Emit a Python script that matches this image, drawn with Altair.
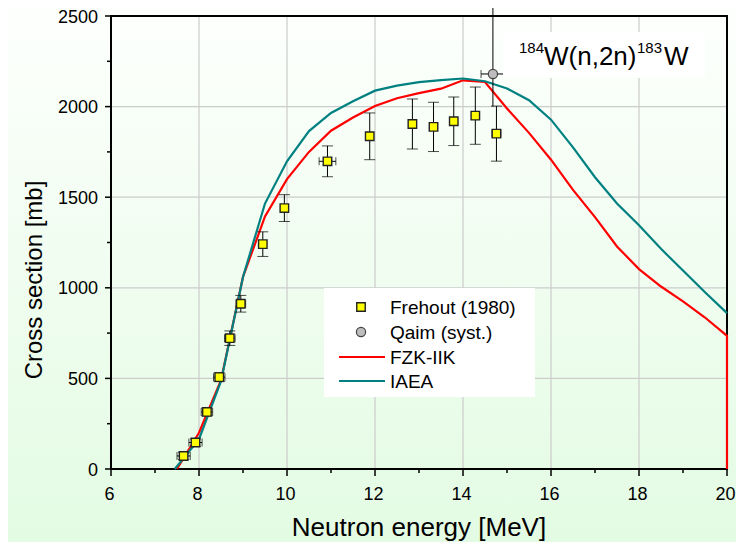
import altair as alt
import pandas as pd

FONT = "Liberation Sans"

# ---------------- data ----------------
# Frehout (1980) experimental points
fre_E = [7.65, 7.92, 8.18, 8.46, 8.70, 8.95, 9.45, 9.94, 10.92, 11.88, 12.85, 13.33, 13.79, 14.28, 14.76]
fre_S = [72, 146, 315, 507, 722, 912, 1241, 1440, 1698, 1836, 1904, 1888, 1919, 1950, 1851]
fre_dS = [20, 20, 22, 25, 40, 46, 68, 74, 85, 129, 138, 136, 134, 158, 152]
fre_dE = [0.15, 0.15, 0.13, 0.13, 0.12, 0.11, 0.08, 0.06, 0.19, 0.05, 0.05, 0.05, 0.05, 0.05, 0.10]

# Qaim (syst.)
qaim_E = [14.68]
qaim_S = [2180]
qaim_dE = [0.27]
qaim_lo = [2000]
qaim_hi = [2590]

# FZK-IIK evaluation
fzk_E = [7.5, 8.0, 8.5, 9.0, 9.5, 10.0, 10.5, 11.0, 11.5, 12.0, 12.5, 13.0, 13.5, 14.0,
         14.5, 15.0, 15.5, 16.0, 16.5, 17.0, 17.5, 18.0, 18.5, 19.0, 19.5, 20.0, 20.0]
fzk_S = [0, 200, 490, 1060, 1394, 1600, 1750, 1867, 1940, 2003, 2046, 2074, 2099, 2145,
         2136, 1990, 1855, 1707, 1540, 1390, 1228, 1103, 1007, 925, 836, 735, 0]

# IAEA evaluation
iaea_E = [7.45, 8.0, 8.5, 9.0, 9.5, 10.0, 10.5, 11.0, 11.5, 12.0, 12.5, 13.0, 13.5, 14.0,
          14.5, 15.0, 15.5, 16.0, 16.5, 17.0, 17.5, 18.0, 18.5, 19.0, 19.5, 20.0]
iaea_S = [0, 165, 485, 1060, 1465, 1698, 1865, 1965, 2030, 2088, 2116, 2135, 2146, 2155,
          2140, 2100, 2035, 1928, 1775, 1610, 1465, 1345, 1215, 1095, 975, 860]

x_ticks = [6, 8, 10, 12, 14, 16, 18, 20]
y_ticks = [0, 500, 1000, 1500, 2000, 2500]
x_minor = [7, 9, 11, 13, 15, 17, 19]
y_minor = [250, 750, 1250, 1750, 2250]
x_grid = [8, 10, 12, 14, 16, 18]
y_grid = [500, 1000, 1500, 2000]

x_title = "Neutron energy [MeV]"
y_title = "Cross section [mb]"
legend_labels = ["Frehout (1980)", "Qaim (syst.)", "FZK-IIK", "IAEA"]

# ---------------- frames ----------------
fre = pd.DataFrame({"E": fre_E, "S": fre_S, "dS": fre_dS, "dE": fre_dE})
fre["lo"] = fre["S"] - fre["dS"]
fre["hi"] = fre["S"] + fre["dS"]
fre["Elo"] = fre["E"] - fre["dE"]
fre["Ehi"] = fre["E"] + fre["dE"]
qa = pd.DataFrame({"E": qaim_E, "S": qaim_S, "lo": qaim_lo, "hi": qaim_hi})
qa["Elo"] = qa["E"] - pd.Series(qaim_dE)
qa["Ehi"] = qa["E"] + pd.Series(qaim_dE)
fzk = pd.DataFrame({"E": fzk_E, "S": fzk_S, "i": range(len(fzk_E))})
iaea = pd.DataFrame({"E": iaea_E, "S": iaea_S, "i": range(len(iaea_E))})
xt = pd.DataFrame({"t": x_ticks, "lab": [str(v) for v in x_ticks]})
yt = pd.DataFrame({"t": y_ticks, "lab": [str(v) for v in y_ticks]})
one = pd.DataFrame({"a": [0]})

W, H = 616, 453
PL, PT, PR, PB = 103, 8, 9, 73

xs = alt.Scale(domain=[6, 20], nice=False, zero=False)
ys = alt.Scale(domain=[0, 2500], nice=False, zero=False)


def X(f):
    return alt.X(f, type="quantitative", scale=xs, axis=None)


def Y(f):
    return alt.Y(f, type="quantitative", scale=ys, axis=None)


layers = []

# background gradient over the whole canvas
layers.append(alt.Chart(one).mark_rect(
    fill=alt.Gradient(gradient="linear",
                      stops=[alt.GradientStop(offset=0, color="#FDFFFD"),
                             alt.GradientStop(offset=1, color="#E3FBE3")],
                      x1=0, x2=0, y1=0, y2=1)
).encode(x=alt.value(-PL), x2=alt.value(W + PR), y=alt.value(-PT), y2=alt.value(H + PB)))

# grid lines
layers.append(alt.Chart(pd.DataFrame({"g": x_grid})).mark_rule(color="#CCCCCC", strokeWidth=1.2)
              .encode(x=X("g")))
layers.append(alt.Chart(pd.DataFrame({"g": y_grid})).mark_rule(color="#CCCCCC", strokeWidth=1.2)
              .encode(y=Y("g")))

# plot frame
layers.append(alt.Chart(one).mark_rect(filled=False, stroke="black", strokeWidth=2,
                                       fill="transparent")
              .encode(x=alt.value(0), x2=alt.value(W), y=alt.value(0), y2=alt.value(H)))

# ticks (major + minor)
layers.append(alt.Chart(xt).mark_rule(color="black", strokeWidth=1.5)
              .encode(x=X("t"), y=alt.value(H), y2=alt.value(H + 7)))
layers.append(alt.Chart(yt).mark_rule(color="black", strokeWidth=1.5)
              .encode(y=Y("t"), x=alt.value(-6), x2=alt.value(0)))
layers.append(alt.Chart(pd.DataFrame({"m": x_minor})).mark_rule(color="black", strokeWidth=1.5)
              .encode(x=X("m"), y=alt.value(H), y2=alt.value(H + 4)))
layers.append(alt.Chart(pd.DataFrame({"m": y_minor})).mark_rule(color="black", strokeWidth=1.5)
              .encode(y=Y("m"), x=alt.value(-4), x2=alt.value(0)))

# tick labels
layers.append(alt.Chart(xt).mark_text(font=FONT, fontSize=18, align="center",
                                      baseline="alphabetic", color="black", dx=-1.5)
              .encode(x=X("t"), y=alt.value(H + 30.5), text="lab:N"))
layers.append(alt.Chart(yt).mark_text(font=FONT, fontSize=18, align="right",
                                      baseline="middle", color="black", dy=1.5)
              .encode(y=Y("t"), x=alt.value(-13), text="lab:N"))

# axis titles
layers.append(alt.Chart(one).mark_text(text=x_title, font=FONT, fontSize=26, align="center",
                                       baseline="alphabetic", color="black")
              .encode(x=alt.value(W / 2), y=alt.value(H + 67)))
layers.append(alt.Chart(one).mark_text(text=y_title, font=FONT, fontSize=24, align="center",
                                       baseline="alphabetic", color="black", angle=270)
              .encode(x=alt.value(-69), y=alt.value(264)))

# model curves
layers.append(alt.Chart(fzk).mark_line(color="#FF0000", strokeWidth=2.2).encode(
    x=X("E"), y=Y("S"), order=alt.Order("i:Q")))
layers.append(alt.Chart(iaea).mark_line(color="#008080", strokeWidth=2.2).encode(
    x=X("E"), y=Y("S"), order=alt.Order("i:Q")))

# error bars
for df in (fre, qa):
    layers.append(alt.Chart(df).mark_rule(color="black", strokeWidth=1)
                  .encode(x=X("E"), y=Y("lo"), y2=alt.Y2("hi")))
    layers.append(alt.Chart(df).mark_rule(color="black", strokeWidth=1)
                  .encode(x=X("Elo"), x2=alt.X2("Ehi"), y=Y("S")))
    layers.append(alt.Chart(df).mark_tick(orient="vertical", size=8, thickness=1, color="black")
                  .encode(x=X("Elo"), y=Y("S")))
    layers.append(alt.Chart(df).mark_tick(orient="vertical", size=8, thickness=1, color="black")
                  .encode(x=X("Ehi"), y=Y("S")))
for f in ("lo", "hi"):
    layers.append(alt.Chart(fre).mark_tick(orient="horizontal", size=11, thickness=1, color="black")
                  .encode(x=X("E"), y=Y(f)))

# points
layers.append(alt.Chart(fre).mark_point(shape="square", size=72, fill="#FFFF00", fillOpacity=1,
                                        stroke="#222222", strokeWidth=1.4, opacity=1)
              .encode(x=X("E"), y=Y("S")))
layers.append(alt.Chart(qa).mark_point(shape="circle", size=85, fill="#BDBDBD", fillOpacity=1,
                                       stroke="#444444", strokeWidth=1.2, opacity=1)
              .encode(x=X("E"), y=Y("S")))

# legend box
layers.append(alt.Chart(one).mark_rect(fill="white")
              .encode(x=alt.value(213), x2=alt.value(424), y=alt.value(272), y2=alt.value(381)))
ly = [291, 316, 341, 365]
layers.append(alt.Chart(one).mark_point(shape="square", size=72, fill="#FFFF00", fillOpacity=1,
                                        stroke="#222222", strokeWidth=1.4, opacity=1)
              .encode(x=alt.value(250), y=alt.value(ly[0])))
layers.append(alt.Chart(one).mark_point(shape="circle", size=85, fill="#BDBDBD", fillOpacity=1,
                                        stroke="#444444", strokeWidth=1.2, opacity=1)
              .encode(x=alt.value(250), y=alt.value(ly[1])))
layers.append(alt.Chart(one).mark_rule(color="#FF0000", strokeWidth=2.2)
              .encode(x=alt.value(228), x2=alt.value(274), y=alt.value(ly[2])))
layers.append(alt.Chart(one).mark_rule(color="#008080", strokeWidth=2.2)
              .encode(x=alt.value(228), x2=alt.value(274), y=alt.value(ly[3])))
for lab, yy in zip(legend_labels, ly):
    layers.append(alt.Chart(one).mark_text(text=lab, font=FONT, fontSize=19, align="left",
                                           baseline="middle", color="black")
                  .encode(x=alt.value(279), y=alt.value(yy + 1)))

# reaction annotation
layers.append(alt.Chart(one).mark_rect(fill="white")
              .encode(x=alt.value(392), x2=alt.value(594), y=alt.value(16), y2=alt.value(62)))
for txt, xx, yy, fs in [("184", 408, 37, 15), ("W(n,2n)", 433, 49, 26),
                        ("183", 526, 37, 15), ("W", 553, 49, 26)]:
    layers.append(alt.Chart(one).mark_text(text=txt, font=FONT, fontSize=fs, align="left",
                                           baseline="alphabetic", color="black")
                  .encode(x=alt.value(xx), y=alt.value(yy)))

chart = alt.layer(*layers).properties(
    width=W, height=H,
    autosize=alt.AutoSizeParams(type="none"),
    padding={"left": PL, "top": PT, "right": PR, "bottom": PB},
    background="white",
).configure_view(stroke=None)

chart.save("out.html", embed_options={"renderer": "svg", "actions": False})
